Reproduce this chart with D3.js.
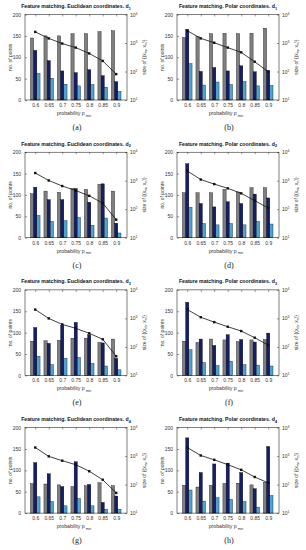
<!DOCTYPE html>
<html>
<head>
<script src="https://cdnjs.cloudflare.com/ajax/libs/d3/7.8.5/d3.min.js"></script>
<style>
	body { margin: 0; background: #fff; }
	svg { display: block; font-family: "Liberation Sans", Arial, sans-serif; }
</style>
</head>
<body>
<script>
	// x categories (probability p_min)
	var probs = [0.6, 0.65, 0.7, 0.75, 0.8, 0.85, 0.9];
	var probLabels = ["0.6", "0.65", "0.7", "0.75", "0.8", "0.85", "0.9"];
	var leftTicks = [0, 50, 100, 150, 200];
	var rightTicks = [10, 100, 1000, 10000];

	var coordNames = ["Euclidean", "Polar", "Euclidean", "Polar", "Euclidean", "Polar", "Euclidean", "Polar"];
	var dIndex = ["1", "1", "2", "2", "3", "3", "4", "4"];
	var captions = ["(a)", "(b)", "(c)", "(d)", "(e)", "(f)", "(g)", "(h)"];

	// grey bars
	var greyBars = [
		[145, 150, 150, 155, 155, 160, 162],
		[146, 148, 155, 156, 155, 156, 168],
		[103, 109, 106, 115, 113, 125, 109],
		[105, 105, 105, 113, 107, 117, 117],
		[80, 81, 82, 87, 87, 77, 85],
		[80, 77, 85, 83, 79, 83, 84],
		[69, 68, 66, 62, 64, 71, 64],
		[65, 61, 65, 69, 70, 66, 72]
	];
	// dark blue bars
	var darkBars = [
		[116, 92, 68, 64, 71, 57, 43],
		[165, 67, 76, 68, 80, 66, 69],
		[118, 89, 89, 115, 83, 126, 34],
		[173, 80, 72, 84, 80, 102, 93],
		[112, 75, 117, 124, 95, 76, 40],
		[171, 85, 70, 95, 84, 78, 99],
		[118, 92, 62, 120, 67, 25, 40],
		[176, 95, 115, 117, 95, 57, 156]
	];
	// light blue bars
	var lightBars = [
		[62, 51, 37, 33, 36, 30, 20],
		[85, 35, 42, 36, 43, 33, 34],
		[52, 38, 40, 47, 29, 46, 11],
		[71, 33, 30, 33, 30, 38, 32],
		[45, 25, 40, 42, 28, 22, 13],
		[60, 30, 23, 33, 25, 24, 22],
		[38, 27, 17, 34, 17, 9, 9],
		[54, 28, 36, 32, 27, 14, 41]
	];
	// line on the log axis
	var setSize = [
		[2450, 1450, 955, 690, 430, 235, 81],
		[2700, 1450, 1020, 690, 470, 220, 98],
		[1860, 1020, 650, 450, 295, 163, 43],
		[2190, 1100, 760, 540, 360, 200, 110],
		[2040, 1000, 615, 450, 300, 185, 47],
		[2040, 1100, 740, 510, 360, 210, 115],
		[2000, 980, 690, 500, 295, 148, 51],
		[2000, 1050, 740, 500, 330, 185, 115]
	];

	var barColors = ["#7f7f7f", "#131d6a", "#4ea4d0"];

	var svg = d3.select("body").append("svg")
		.attr("width", 306)
		.attr("height", 550);

	function drawPanel(i) {
		var col = i % 2, row = Math.floor(i / 2);
		var g = svg.append("g")
			.attr("transform", "translate(" + (col ? 152 : 0) + "," + (row * 137.7) + ")");

		var left = 25, right = 127, top = 14.5, bottom = 100;
		var x = d3.scaleLinear().domain([0.562, 0.94]).range([left, right]);
		var y = d3.scaleLinear().domain([0, 200]).range([bottom, top]);
		var yr = d3.scaleLog().domain([10, 10000]).range([bottom, top]);

		// bars
		var series = [greyBars[i], darkBars[i], lightBars[i]];
		var bw = 3.2;
		series.forEach(function(vals, k) {
			g.selectAll(".bar" + k).data(vals).enter().append("rect")
				.attr("x", function(d, j) { return x(probs[j]) + (k - 1) * bw - bw / 2; })
				.attr("y", function(d) { return y(d); })
				.attr("width", bw)
				.attr("height", function(d) { return bottom - y(d); })
				.attr("fill", barColors[k])
				.attr("stroke", "#000")
				.attr("stroke-width", 0.35);
		});

		// line with square markers
		var line = d3.line()
			.x(function(d, j) { return x(probs[j]); })
			.y(function(d) { return yr(d); });
		g.append("path").datum(setSize[i])
			.attr("d", line)
			.attr("fill", "none")
			.attr("stroke", "#111")
			.attr("stroke-width", 0.8);
		g.selectAll(".mk").data(setSize[i]).enter().append("rect")
			.attr("x", function(d, j) { return x(probs[j]) - 1.2; })
			.attr("y", function(d) { return yr(d) - 1.2; })
			.attr("width", 2.4).attr("height", 2.4)
			.attr("fill", "#111");

		// axes
		var ax = g.append("g").attr("font-size", 5);
		var la = ax.append("g").attr("transform", "translate(" + left + ",0)")
			.call(d3.axisLeft(y).tickValues(leftTicks).tickSize(-2).tickPadding(4));
		la.selectAll("text").attr("font-size", 5).attr("fill", "#333");
		var ba = ax.append("g").attr("transform", "translate(0," + bottom + ")")
			.call(d3.axisBottom(x).tickValues(probs).tickSize(-2).tickPadding(3.5)
				.tickFormat(function(d, j) { return probLabels[j]; }));
		ba.selectAll("text").attr("font-size", 5).attr("fill", "#333");
		ax.append("g").attr("transform", "translate(0," + top + ")")
			.call(d3.axisTop(x).tickValues(probs).tickSize(-2).tickFormat(""));
		ax.append("g").attr("transform", "translate(" + right + ",0)")
			.call(d3.axisRight(yr).tickValues(rightTicks).tickSize(-2).tickFormat(""));
		ax.selectAll("path.domain").remove();
		ax.selectAll(".tick line").attr("stroke", "#000").attr("stroke-width", 0.4);

		// right tick labels 10^n
		rightTicks.forEach(function(t) {
			var tx = g.append("text")
				.attr("x", right + 3).attr("y", yr(t) + 2)
				.attr("font-size", 5).attr("fill", "#333");
			tx.append("tspan").text("10");
			tx.append("tspan").attr("dy", -2).attr("font-size", 3.5).text(Math.round(Math.log10(t)));
		});

		// box
		g.append("rect")
			.attr("x", left).attr("y", top)
			.attr("width", right - left).attr("height", bottom - top)
			.attr("fill", "none").attr("stroke", "#000").attr("stroke-width", 0.5);

		// title
		var title = g.append("text")
			.attr("x", (left + right) / 2).attr("y", 8)
			.attr("text-anchor", "middle")
			.attr("font-size", 5.2).attr("font-weight", "bold").attr("fill", "#111");
		title.append("tspan").text("Feature matching. " + coordNames[i] + " coordinates. d");
		title.append("tspan").attr("dy", 1.5).attr("font-size", 3.8).text(dIndex[i]);

		// y labels
		g.append("text")
			.attr("transform", "translate(12," + ((top + bottom) / 2) + ") rotate(-90)")
			.attr("text-anchor", "middle")
			.attr("font-size", 5).attr("fill", "#333")
			.text("no. of points");
		var rl = g.append("text")
			.attr("transform", "translate(" + (right + 19) + "," + ((top + bottom) / 2) + ") rotate(-90)")
			.attr("text-anchor", "middle")
			.attr("font-size", 5).attr("fill", "#333");
		rl.append("tspan").text("size of {(x");
		rl.append("tspan").attr("dy", 1.3).attr("font-size", 3.5).text("m");
		rl.append("tspan").attr("dy", -1.3).text(", x");
		rl.append("tspan").attr("dy", 1.3).attr("font-size", 3.5).text("n");
		rl.append("tspan").attr("dy", -1.3).text(")}");

		// x label
		var xl = g.append("text")
			.attr("x", (left + right) / 2 - 2).attr("y", 115)
			.attr("text-anchor", "middle")
			.attr("font-size", 5.2).attr("fill", "#333");
		xl.append("tspan").text("probability p");
		xl.append("tspan").attr("dy", 1.5).attr("font-size", 3.5).text(" min");

		// caption
		g.append("text")
			.attr("x", (left + right) / 2 + 1).attr("y", 130)
			.attr("text-anchor", "middle")
			.attr("font-family", "'Liberation Serif', 'DejaVu Serif', serif")
			.attr("font-size", 8).attr("fill", "#222")
			.text(captions[i]);
	}

	for (var i = 0; i < 8; i++) drawPanel(i);
</script>
</body>
</html>
